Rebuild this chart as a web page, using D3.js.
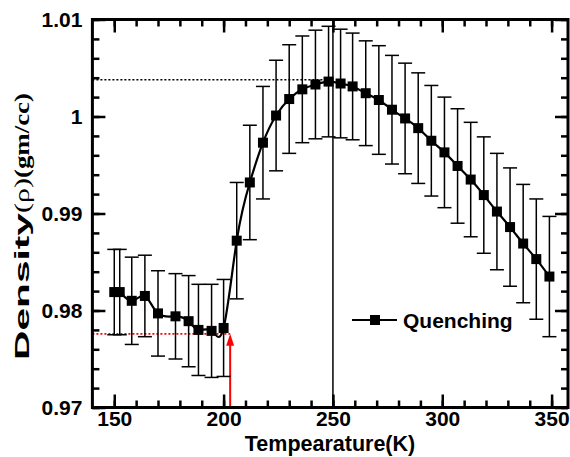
<!DOCTYPE html>
<html><head><meta charset="utf-8">
<script src="https://cdn.jsdelivr.net/npm/d3@7"></script>
<style>body{margin:0;background:#fff}svg{display:block}</style>
</head><body>
<svg id="c" width="570" height="457"></svg>
<script>
const temps = [150, 152.5, 158, 164, 170, 178, 184, 188.5, 194.5, 200, 206, 212, 218, 224, 230, 236, 242, 248, 253.5, 259, 265, 271, 277, 283, 289, 295, 301, 307, 313, 319, 325, 331, 337, 343, 349];
const density = [0.9819, 0.9819, 0.9810, 0.9815, 0.9797, 0.9794, 0.9789, 0.9780, 0.9779, 0.9782, 0.9872, 0.9932, 0.9973, 1.0001, 1.0018, 1.0028, 1.0033, 1.0036, 1.0034, 1.0031, 1.0024, 1.0017, 1.0007, 0.9998, 0.9988, 0.9975, 0.9963, 0.9949, 0.9935, 0.9919, 0.9902, 0.9886, 0.9869, 0.9853, 0.9835];
const errors = [0.0044, 0.0044, 0.0045, 0.0042, 0.0044, 0.0044, 0.0047, 0.0047, 0.0048, 0.0050, 0.0060, 0.0059, 0.0058, 0.0057, 0.0056, 0.0055, 0.0056, 0.0057, 0.0056, 0.0055, 0.0054, 0.0056, 0.0056, 0.0057, 0.0057, 0.0057, 0.0057, 0.0059, 0.0059, 0.0060, 0.0060, 0.0061, 0.0061, 0.0062, 0.0062];
const xTicks = [150, 200, 250, 300, 350];
const xTickLabels = ["150", "200", "250", "300", "350"];
const yTicks = [0.97, 0.98, 0.99, 1.00, 1.01];
const yTickLabels = ["0.97", "0.98", "0.99", "1", "1.01"];
const seriesName = "Quenching";
const peakT = 250, peakRho = 1.0038;
const transT = 203, transRho = 0.9776;
const xDomain = [140, 357.5], yDomain = [0.97, 1.01];

const svg = d3.select("#c");
const L = 92.4, R = 568, T = 19.5, B = 407.5;
const x = d3.scaleLinear().domain(xDomain).range([L, R]);
const y = d3.scaleLinear().domain(yDomain).range([B, T]);
const font = "'Liberation Sans', Arial, sans-serif";

const minorX = d3.range(150, 357, 10);
const minorY = d3.range(0, 21).map(i => 0.97 + i * 0.002);

function styleAxis(g) {
  g.select(".domain").remove();
  g.selectAll(".tick line").attr("stroke", "#000").attr("stroke-width", 2.5);
}
// bottom
svg.append("g").attr("transform", `translate(0,${B})`)
  .call(d3.axisBottom(x).tickValues(minorX).tickSize(-7).tickFormat(""))
  .call(styleAxis);
svg.append("g").attr("transform", `translate(0,${B})`)
  .call(d3.axisBottom(x).tickValues(xTicks).tickSize(-13).tickPadding(4).tickFormat((d, i) => xTickLabels[i]))
  .call(styleAxis)
  .selectAll("text").attr("font-family", font).attr("font-weight", "bold").attr("font-size", 21).attr("fill", "#000");
// top
svg.append("g").attr("transform", `translate(0,${T})`)
  .call(d3.axisTop(x).tickValues(minorX).tickSize(-7).tickFormat("")).call(styleAxis);
svg.append("g").attr("transform", `translate(0,${T})`)
  .call(d3.axisTop(x).tickValues(xTicks).tickSize(-13).tickFormat("")).call(styleAxis);
// left
svg.append("g").attr("transform", `translate(${L},0)`)
  .call(d3.axisLeft(y).tickValues(minorY).tickSize(-7).tickFormat("")).call(styleAxis);
svg.append("g").attr("transform", `translate(${L},0)`)
  .call(d3.axisLeft(y).tickValues(yTicks).tickSize(-13).tickPadding(10).tickFormat((d, i) => yTickLabels[i]))
  .call(styleAxis)
  .selectAll("text").attr("font-family", font).attr("font-weight", "bold").attr("font-size", 21).attr("fill", "#000");
// right
svg.append("g").attr("transform", `translate(${R},0)`)
  .call(d3.axisRight(y).tickValues(minorY).tickSize(-7).tickFormat("")).call(styleAxis);
svg.append("g").attr("transform", `translate(${R},0)`)
  .call(d3.axisRight(y).tickValues(yTicks).tickSize(-13).tickFormat("")).call(styleAxis);

// reference lines
svg.append("line").attr("x1", x(xDomain[0])).attr("x2", x(peakT)).attr("y1", y(peakRho)).attr("y2", y(peakRho))
  .attr("stroke", "#000").attr("stroke-width", 1.5).attr("stroke-dasharray", "2,2");
svg.append("line").attr("x1", x(peakT)).attr("x2", x(peakT)).attr("y1", y(yDomain[0])).attr("y2", y(yDomain[1]))
  .attr("stroke", "#000").attr("stroke-width", 1.5);
svg.append("line").attr("x1", x(xDomain[0])).attr("x2", x(transT)).attr("y1", y(transRho)).attr("y2", y(transRho))
  .attr("stroke", "#ff0000").attr("stroke-width", 1.8).attr("stroke-dasharray", "2,2");
const ax = x(transT), ayTip = y(transRho);
svg.append("line").attr("x1", ax).attr("x2", ax).attr("y1", y(yDomain[0])).attr("y2", ayTip + 8)
  .attr("stroke", "#ff0000").attr("stroke-width", 2);
svg.append("path").attr("d", `M${ax},${ayTip} L${ax - 4},${ayTip + 12} L${ax + 4},${ayTip + 12} Z`).attr("fill", "#ff0000");

// error bars
const data = temps.map((t, i) => ({t, r: density[i], e: errors[i]}));
const eb = svg.append("g").attr("stroke", "#000").attr("stroke-width", 1.5);
data.forEach(d => {
  const cx = x(d.t), y1 = y(d.r + d.e), y2 = y(d.r - d.e);
  eb.append("line").attr("x1", cx).attr("x2", cx).attr("y1", y1).attr("y2", y2);
  eb.append("line").attr("x1", cx - 7).attr("x2", cx + 7).attr("y1", y1).attr("y2", y1);
  eb.append("line").attr("x1", cx - 7).attr("x2", cx + 7).attr("y1", y2).attr("y2", y2);
});

// curve
const line = d3.line().x(d => x(d.t)).y(d => y(d.r)).curve(d3.curveNatural);
svg.append("path").datum(data).attr("d", line).attr("fill", "none").attr("stroke", "#000").attr("stroke-width", 2.2);
const S = 10;
svg.append("g").selectAll("rect").data(data).join("rect")
  .attr("x", d => x(d.t) - S / 2).attr("y", d => y(d.r) - S / 2).attr("width", S).attr("height", S).attr("fill", "#000");

// frame
svg.append("rect").attr("x", L).attr("y", T).attr("width", R - L).attr("height", B - T)
  .attr("fill", "none").attr("stroke", "#000").attr("stroke-width", 3);

// legend
const lg = svg.append("g");
lg.append("line").attr("x1", 352).attr("x2", 397).attr("y1", 320).attr("y2", 320).attr("stroke", "#000").attr("stroke-width", 2.2);
lg.append("rect").attr("x", 375 - S / 2).attr("y", 320 - S / 2).attr("width", S).attr("height", S).attr("fill", "#000");
lg.append("text").attr("x", 403).attr("y", 327.5).attr("font-family", font).attr("font-weight", "bold").attr("font-size", 21).text(seriesName);

// axis titles
svg.append("text").attr("x", 330).attr("y", 451).attr("text-anchor", "middle")
  .attr("font-family", font).attr("font-weight", "bold").attr("font-size", 21.5).text("Tempearature(K)");
svg.append("text").attr("transform", "translate(29,360) rotate(-90)")
  .attr("font-family", font).attr("font-weight", "bold").attr("font-size", 21)
  .attr("textLength", 147).attr("lengthAdjust", "spacingAndGlyphs").text("Density");
svg.append("text").attr("transform", "translate(29,213) rotate(-90)")
  .attr("font-family", "'Liberation Serif', 'Times New Roman', serif").attr("font-size", 21)
  .attr("textLength", 35).attr("lengthAdjust", "spacingAndGlyphs").text("(ρ)");
svg.append("text").attr("transform", "translate(29,178) rotate(-90)")
  .attr("font-family", "'Liberation Serif', 'Times New Roman', serif").attr("font-weight", "bold").attr("font-size", 21)
  .attr("textLength", 85).attr("lengthAdjust", "spacingAndGlyphs").text("(gm/cc)");
</script>
</body></html>
